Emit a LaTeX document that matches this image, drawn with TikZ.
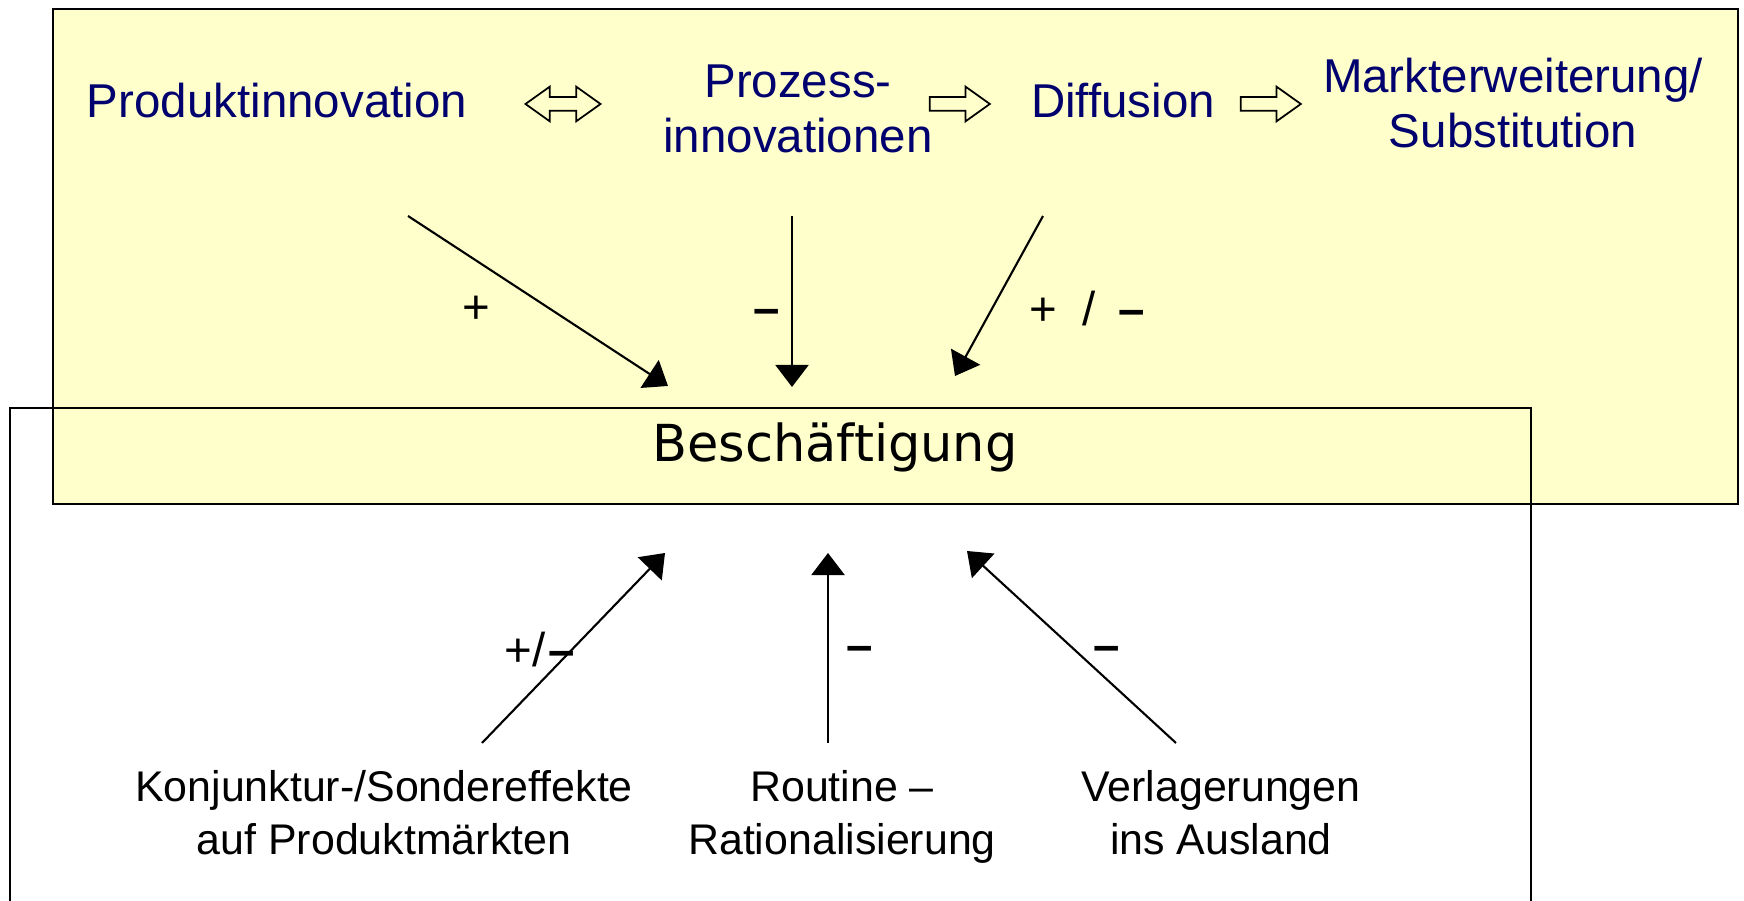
\documentclass[tikz,border=0pt]{standalone}
\usepackage{fontspec}
\setmainfont{Liberation Sans}
\newfontfamily\widesans{DejaVu Sans}
\usepackage{tikz}
\usetikzlibrary{arrows.meta, positioning, shapes.arrows}
\definecolor{mynavy}{RGB}{0,0,110}
\definecolor{myyellow}{RGB}{255,255,204}
\definecolor{mydark}{RGB}{0,0,0}
\tikzset{
  topterm/.style={align=center, inner sep=0pt, text=mynavy,
    font=\fontsize{13.5}{15.6}\selectfont},
  subterm/.style={align=center, inner sep=0pt,
    font=\fontsize{12.2}{15}\selectfont},
  centerterm/.style={inner sep=0pt, font=\widesans\fontsize{14.5}{17}\selectfont},
  sign/.style={inner sep=0pt, font=\fontsize{13.5}{15}\selectfont},
  flowarrow/.style={single arrow, draw=mydark, fill=myyellow, line width=0.5pt,
    minimum height=6mm, inner xsep=0pt, inner ysep=0.6mm,
    single arrow head extend=1.05mm, single arrow tip angle=71},
  swaparrow/.style={double arrow, draw=mydark, fill=myyellow, line width=0.5pt,
    minimum height=7.5mm, inner xsep=0pt, inner ysep=0.6mm,
    double arrow head extend=1.05mm, double arrow tip angle=71},
  arrow/.style={-{Triangle[length=2.2mm, width=3.3mm]}, line width=0.6pt, color=mydark},
  frame/.style={line width=0.8pt, draw=mydark}
}

\begin{document}
\begin{tikzpicture}[x=0.01cm, y=-0.01cm]
  \useasboundingbox (0,0) rectangle (1744,901);

  % Frames
  \draw[frame, fill=myyellow] (53,9) rectangle (1738,504);
  \draw[frame] (10,910) |- (1531,408) -- (1531,910);

  % Nodes
  \node[topterm, anchor=base] (prodinno) at (277,118) {Produktinnovation};
  \node[swaparrow] (swap) at (563,104) {};
  \node[topterm] (prozinno) at (798,109) {Prozess-\\innovationen};
  \node[flowarrow] (flowa) at (955,104) {};
  \node[topterm, anchor=base] (diffusion) at (1123,118) {Diffusion};
  \node[flowarrow] (flowb) at (1266,104) {};
  \node[topterm] (markt) at (1513,103) {Markterweiterung/\\Substitution};

  \node[centerterm, anchor=base] (besch) at (835,462) {Beschäftigung};

  \node[subterm] (konj) at (384,813) {Konjunktur-/Sondereffekte\\auf Produktmärkten};
  \node[subterm] (routine) at (842,817) {Routine –\\Rationalisierung};
  \node[subterm] (verlag) at (1221,813) {Verlagerungen\\ins Ausland};

  % Ends of the connectors
  \coordinate (prodinno-out) at (408,216);
  \coordinate (prozinno-out) at (792,216);
  \coordinate (diffusion-out) at (1043,216);
  \coordinate (besch-nw) at (668,386);
  \coordinate (besch-n) at (792,387);
  \coordinate (besch-ne) at (955,376);
  \coordinate (konj-out) at (482,743);
  \coordinate (routine-out) at (828,743);
  \coordinate (verlag-out) at (1176,743);
  \coordinate (besch-sw) at (665,553);
  \coordinate (besch-s) at (828,553);
  \coordinate (besch-se) at (967,551);

  % Paths
  \draw[arrow] (prodinno-out) -- (besch-nw);
  \draw[arrow] (prozinno-out) -- (besch-n);
  \draw[arrow] (diffusion-out) -- (besch-ne);
  \draw[arrow] (konj-out) -- (besch-sw);
  \draw[arrow] (routine-out) -- (besch-s);
  \draw[arrow] (verlag-out) -- (besch-se);

  % Signs
  \node[sign] (sign-pi) at (476,310) {+};
  \node[sign] (sign-pz) at (767,317) {\textbf{–}};
  \node[sign] (sign-df) at (1087,309) {+\hspace{0.12cm} / \hspace{0.1cm}\textbf{–}};
  \node[sign] (sign-kj) at (540,650) {+/\hspace{0.03cm}\textbf{–}};
  \node[sign] (sign-rt) at (860,654) {\textbf{–}};
  \node[sign] (sign-vl) at (1107,654) {\textbf{–}};
\end{tikzpicture}
\end{document}
